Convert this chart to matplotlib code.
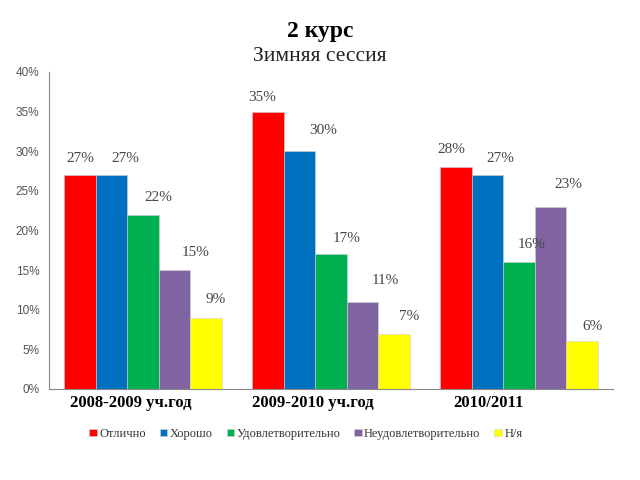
import numpy as np
import matplotlib.pyplot as plt
from matplotlib.ticker import FuncFormatter

plt.rcParams['font.family'] = ['Liberation Serif', 'DejaVu Serif']

years = ['2008-2009 уч.год', '2009-2010 уч.год', '2010/2011']
grades = ['Отлично', 'Хорошо', 'Удовлетворительно', 'Неудовлетворительно', 'Н/я']
otlichno = [27, 35, 28]
horosho = [27, 30, 27]
udovl = [22, 17, 16]
neudovl = [15, 11, 23]
nya = [9, 7, 6]
series = [otlichno, horosho, udovl, neudovl, nya]
colors = ['#FF0000', '#0070C0', '#00B050', '#8064A2', '#FFFF00']

# label nudges (points) to mimic the hand-placed labels
dx = [[0, -4.5, -3.5], [10, 17, 9], [11, 11, 9], [15, 16, 13], [7, 11, 7.5]]
dy = [[12, 10, 13], [12, 15, 12], [12, 11, 13], [13, 15, 16], [13, 12, 11]]
year_dx = [-8.6, -13, -22.3]

fig = plt.figure(figsize=(6.4, 4.8), dpi=100)
ax = fig.add_axes([0.0766, 0.1896, 0.8814, 0.6604])

x = np.arange(len(years))
w = 0.168
for i, vals in enumerate(series):
    pos = x + (i - 2) * w
    ax.bar(pos, vals, w, color=colors[i], edgecolor='#d0d0d0', linewidth=0.4, label=grades[i])
    for j, v in enumerate(vals):
        ax.annotate(f'{v}%', (pos[j], v), xytext=(dx[i][j], dy[i][j]), textcoords='offset points',
                    ha='center', va='center', fontsize=11, color='#454545')

ax.set_xlim(-0.5, 2.5)
ax.set_ylim(0, 40)
ax.set_yticks(range(0, 41, 5))
ax.yaxis.set_major_formatter(FuncFormatter(lambda v, p: f'{int(v)}%'))
ax.tick_params(axis='y', length=0, labelsize=8.5, labelcolor='#555555', pad=7)
for lab in ax.get_yticklabels():
    lab.set_fontfamily('Liberation Sans')
ax.set_xticks([])
for j, name in enumerate(years):
    ax.annotate(name, (x[j], 0), xytext=(year_dx[j], -10), textcoords='offset points',
                ha='center', va='center', fontsize=12, fontweight='bold')
for s in ['top', 'right']:
    ax.spines[s].set_visible(False)
for s in ['left', 'bottom']:
    ax.spines[s].set_color('#888888')

fig.text(0.5, 0.935, '2 курс', ha='center', va='center', fontsize=17, fontweight='bold')
fig.text(0.5, 0.882, 'Зимняя сессия', ha='center', va='center', fontsize=15.5, color='#222222')

fig.legend(loc='center', bbox_to_anchor=(0.478, 0.096), ncol=5, frameon=False, fontsize=9,
           handlelength=0.6, handleheight=0.6, handletextpad=0.2, columnspacing=1.1,
           labelcolor='#333333')

fig.savefig('out.png', dpi=100)
